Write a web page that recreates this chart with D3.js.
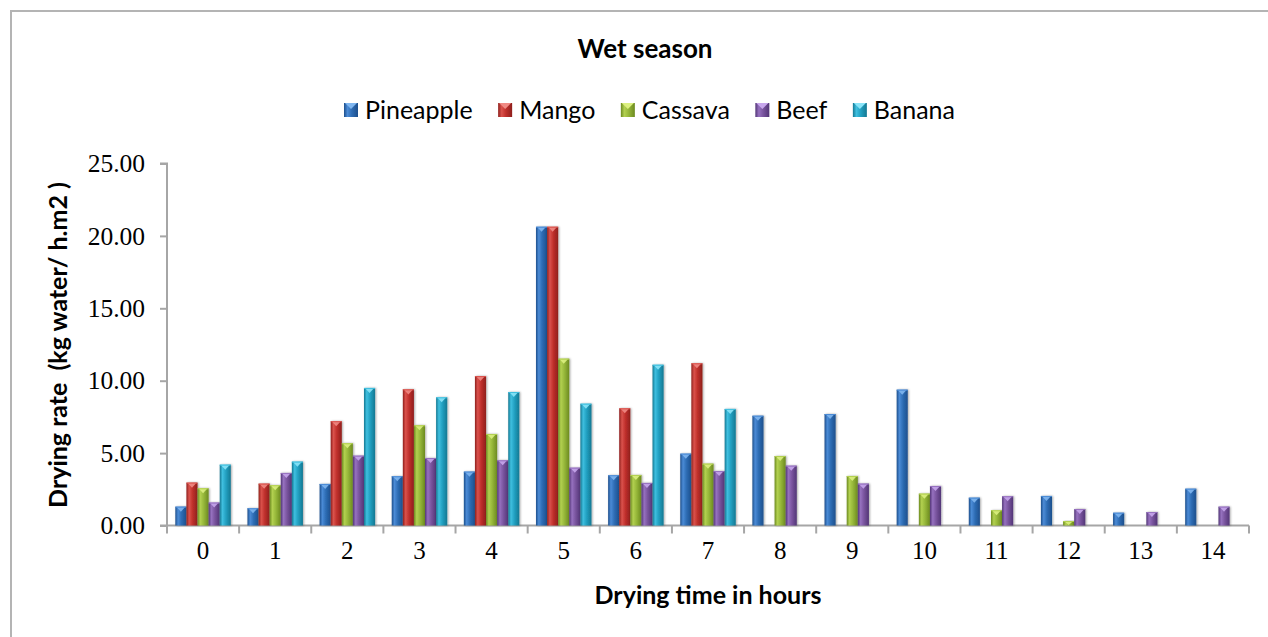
<!DOCTYPE html>
<html>
<head>
<meta charset="utf-8">
<script src="https://cdn.jsdelivr.net/npm/d3@7"></script>
<style>
  html, body { margin: 0; padding: 0; background: #fff; }
  svg { display: block; }
</style>
</head>
<body>
<svg id="chart" width="1268" height="637"></svg>
<script>
// Drying time (hours) and drying rate per product, wet season
const hours = ["0","1","2","3","4","5","6","7","8","9","10","11","12","13","14"];
const seriesNames = ["Pineapple","Mango","Cassava","Beef","Banana"];
const pineapple = [1.30,1.19,2.87,3.40,3.72,20.63,3.47,4.96,7.58,7.70,9.38,1.92,2.04,0.88,2.54];
const mango     = [2.96,2.89,7.20,9.40,10.32,20.63,8.09,11.20,null,null,null,null,null,null,null];
const cassava   = [2.57,2.78,5.68,6.92,6.32,11.52,3.49,4.27,4.80,3.42,2.20,1.05,0.31,null,null];
const beef      = [1.58,3.63,4.82,4.66,4.50,3.99,2.94,3.76,4.13,2.89,2.73,2.02,1.14,0.93,1.30];
const banana    = [4.20,4.41,9.50,8.85,9.22,8.41,11.10,8.05,null,null,null,null,null,null,null];
const yTicks = [0,5,10,15,20,25];

const seriesValues = [pineapple, mango, cassava, beef, banana];
const palette = [
  {base:"#2e6db5", dark:"#1d4f8c", light:"#4b8bd6", cap:"#7fb6f0"},
  {base:"#c0302c", dark:"#8f1f1c", light:"#da524c", cap:"#f08a84"},
  {base:"#97b83a", dark:"#6c8a20", light:"#b2d050", cap:"#dcf080"},
  {base:"#7a559f", dark:"#523576", light:"#9671bf", cap:"#c7a6ec"},
  {base:"#22a1c2", dark:"#147892", light:"#3fbfdf", cap:"#8ae4f8"}
];

const svg = d3.select("#chart");
const W = 1268, H = 637;
const sans = "Lato, 'Open Sans', sans-serif";
const serif = "'Liberation Serif', 'Times New Roman', serif";

// outer frame
svg.append("path")
  .attr("d", `M11,${H} V11 H${W}`)
  .attr("fill", "none").attr("stroke", "#b4b4b4").attr("stroke-width", 2);

const margin = {left: 167, right: W - 1249, top: 163.5, bottom: H - 525.5};
const x0 = d3.scaleBand().domain(hours).range([margin.left, W - margin.right]).paddingInner(0).paddingOuter(0);
const bw = x0.bandwidth() / 6.5;
const x1 = d3.scaleBand().domain(seriesNames).range([bw * 0.75, bw * 5.75]).padding(0);
const y = d3.scaleLinear().domain([0, 25]).range([H - margin.bottom, margin.top]);

// gradients
const defs = svg.append("defs");
palette.forEach((c, i) => {
  const g = defs.append("linearGradient").attr("id", "grad" + i)
    .attr("x1", "0").attr("x2", "1").attr("y1", "0").attr("y2", "0");
  g.append("stop").attr("offset", "0%").attr("stop-color", c.dark);
  g.append("stop").attr("offset", "25%").attr("stop-color", c.light);
  g.append("stop").attr("offset", "55%").attr("stop-color", c.base);
  g.append("stop").attr("offset", "100%").attr("stop-color", c.dark);
});
const sh = defs.append("filter").attr("id", "shadow").attr("x", "-30%").attr("y", "-10%").attr("width", "160%").attr("height", "130%");
sh.append("feGaussianBlur").attr("in", "SourceAlpha").attr("stdDeviation", 1.2).attr("result", "b");
sh.append("feOffset").attr("in", "b").attr("dx", 1).attr("dy", 0).attr("result", "o");
sh.append("feComponentTransfer").attr("in", "o").attr("result", "s")
  .append("feFuncA").attr("type", "linear").attr("slope", 0.35);
const mg = sh.append("feMerge");
mg.append("feMergeNode").attr("in", "s");
mg.append("feMergeNode").attr("in", "SourceGraphic");

// axes
const axisColor = "#a6a6a6";
const yAxis = svg.append("g").attr("transform", `translate(${margin.left},0)`)
  .call(d3.axisLeft(y).tickValues(yTicks).tickFormat(d3.format(".2f")).tickSize(7).tickPadding(15));
yAxis.select(".domain").attr("stroke", axisColor).attr("stroke-width", 2).attr("d", `M-7,${y(25)}H0V${y(0)}H-7`);
yAxis.selectAll(".tick line").attr("stroke", axisColor).attr("stroke-width", 2);
yAxis.selectAll(".tick text").attr("font-family", serif).attr("font-size", 25.5).attr("fill", "#000");

const xAxis = svg.append("g").attr("transform", `translate(0,${y(0)})`)
  .call(d3.axisBottom(x0).tickSize(0).tickPadding(16));
xAxis.select(".domain").remove();
xAxis.append("line").attr("x1", margin.left).attr("x2", W - margin.right)
  .attr("stroke", axisColor).attr("stroke-width", 2);
xAxis.selectAll(".sep").data(d3.range(hours.length + 1)).enter().append("line")
  .attr("x1", i => margin.left + i * x0.bandwidth()).attr("x2", i => margin.left + i * x0.bandwidth())
  .attr("y1", 0).attr("y2", 8).attr("stroke", axisColor).attr("stroke-width", 2);
xAxis.selectAll(".tick text").attr("font-family", serif).attr("font-size", 25).attr("fill", "#000");

// bars
const groups = svg.append("g").selectAll("g").data(hours).enter().append("g")
  .attr("transform", d => `translate(${x0(d)},0)`);
groups.each(function(h, hi) {
  const g = d3.select(this);
  const rows = seriesNames.map((s, si) => ({s, si, v: seriesValues[si][hi]})).filter(r => r.v != null);
  const bars = g.selectAll("g.bar").data(rows).enter().append("g").attr("class", "bar");
  bars.append("rect")
    .attr("x", r => x1(r.s)).attr("width", x1.bandwidth())
    .attr("y", r => y(r.v)).attr("height", r => y(0) - y(r.v))
    .attr("fill", r => `url(#grad${r.si})`).attr("filter", "url(#shadow)");
  // bevelled top cap
  bars.append("path")
    .attr("d", r => {
      const xl = x1(r.s), w = x1.bandwidth(), t = y(r.v);
      const d = Math.min(5, (y(0) - t) * 0.9);
      return `M${xl + 1},${t} H${xl + w - 1} L${xl + w / 2},${t + d} Z`;
    })
    .attr("fill", r => palette[r.si].cap).attr("opacity", 0.9);
  bars.append("line")
    .attr("x1", r => x1(r.s)).attr("x2", r => x1(r.s) + x1.bandwidth())
    .attr("y1", r => y(r.v) + 0.5).attr("y2", r => y(r.v) + 0.5)
    .attr("stroke", r => palette[r.si].light).attr("stroke-width", 1);
});

// title
svg.append("text").attr("x", 645).attr("y", 58).attr("text-anchor", "middle")
  .attr("font-family", sans).attr("font-weight", "bold").attr("font-size", 26)
  .text("Wet season");

// legend: items laid out with equal gaps between x = 344 and x = 955
const legendStart = 344, legendEnd = 955, swatch = 14, swatchGap = 7;
const legend = svg.append("g").selectAll("g").data(seriesNames).enter().append("g");
legend.append("rect").attr("x", 0).attr("y", -7).attr("width", swatch).attr("height", swatch)
  .attr("fill", (d, i) => `url(#grad${i})`);
legend.append("path").attr("d", "M1,-7 H13 L7,-1 Z").attr("fill", (d, i) => palette[i].cap);
legend.append("text").attr("x", swatch + swatchGap).attr("y", 9)
  .attr("font-family", sans).attr("font-size", 25).attr("fill", "#000")
  .text(d => d);
const itemW = legend.nodes().map(n => swatch + swatchGap + d3.select(n).select("text").node().getComputedTextLength());
const gap = (legendEnd - legendStart - d3.sum(itemW)) / (itemW.length - 1);
let cx = legendStart;
legend.attr("transform", (d, i) => {
  const t = `translate(${cx},110)`;
  cx += itemW[i] + gap;
  return t;
});

// axis titles
svg.append("text").attr("transform", `translate(67,345) rotate(-90)`).attr("text-anchor", "middle")
  .attr("font-family", sans).attr("font-weight", "bold").attr("font-size", 25)
  .attr("xml:space", "preserve").style("white-space", "pre")
  .text("Drying rate  (kg water/ h.m2 )");
svg.append("text").attr("x", 708).attr("y", 604).attr("text-anchor", "middle")
  .attr("font-family", sans).attr("font-weight", "bold").attr("font-size", 25)
  .text("Drying time in hours");
</script>
</body>
</html>
